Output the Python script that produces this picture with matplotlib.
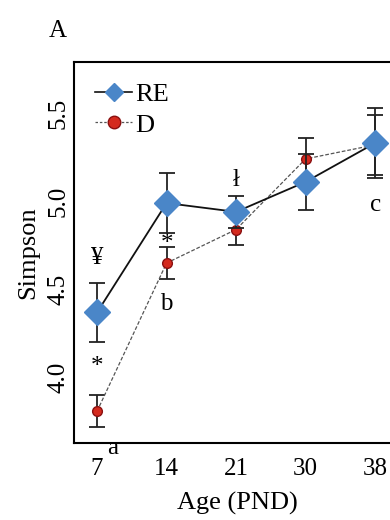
import matplotlib.pyplot as plt
from matplotlib.lines import Line2D
import numpy as np

plt.rcParams['font.family'] = ['Liberation Serif', 'DejaVu Serif']

ages = ['7', '14', '21', '30', '38']
re_mean = [4.37, 4.99, 4.94, 5.11, 5.33]
re_err = [0.165, 0.17, 0.09, 0.16, 0.20]
d_mean = [3.81, 4.65, 4.84, 5.24, 5.32]
d_err = [0.09, 0.09, 0.09, 0.12, 0.17]

# significance marks: (x index, y value, text)
marks = [(0, 4.68, '¥'), (0, 4.06, '*'), (1, 4.76, '*'), (2, 5.12, 'ł'),
         (1, 4.42, 'b'), (4, 4.98, 'c'), (0.22, 3.60, 'a')]

fig = plt.figure(figsize=(3.9, 5.2), dpi=100)
ax = fig.add_axes([0.19, 0.148, 0.836, 0.733])
x = np.arange(len(ages))

ax.errorbar(x, d_mean, yerr=d_err, color='#555555', ls=(0, (3, 1.5)), lw=0.9,
            marker='o', ms=7, mfc='#d42a1e', mec='#8a1010', ecolor='#222222',
            elinewidth=1.3, capsize=6, capthick=1.3, zorder=3)
ax.errorbar(x, re_mean, yerr=re_err, color='#111111', ls='-', lw=1.3,
            marker='D', ms=13, mfc='#4a86c8', mec='#4a86c8', ecolor='#222222',
            elinewidth=1.3, capsize=6, capthick=1.3, zorder=4)

for xi, yi, t in marks:
    ax.text(xi, yi, t, ha='center', va='center', fontsize=18, clip_on=False)

ax.set_xlim(-0.33, 4.36)
ax.set_ylim(3.63, 5.79)
ax.set_xticks(x)
ax.set_xticklabels(ages)
ax.set_yticks([4.0, 4.5, 5.0, 5.5])
ax.set_yticklabels(['4.0', '4.5', '5.0', '5.5'], rotation=90, va='center')
ax.tick_params(axis='x', length=0, labelsize=18, pad=11)
ax.tick_params(axis='y', length=0, labelsize=18, pad=3)
ax.set_xlabel('Age (PND)', fontsize=19, labelpad=8)
ax.set_ylabel('Simpson', fontsize=19, labelpad=6)
for s in ax.spines.values():
    s.set_linewidth(1.5)

handles = [
    Line2D([], [], color='#111111', lw=1.2, marker='D', ms=9,
           mfc='#4a86c8', mec='#4a86c8'),
    Line2D([], [], color='#555555', lw=0.9, ls=(0, (2, 1.5)), marker='o', ms=9,
           mfc='#d42a1e', mec='#8a1010'),
]
ax.legend(handles, ['RE', 'D'], loc='upper left', frameon=False, fontsize=19,
          handlelength=1.4, handletextpad=0.1, labelspacing=0.25,
          borderaxespad=0.5, borderpad=0.3)

fig.text(0.125, 0.94, 'A', fontsize=18, ha='left', va='center')
fig.savefig('out.png', dpi=100)
